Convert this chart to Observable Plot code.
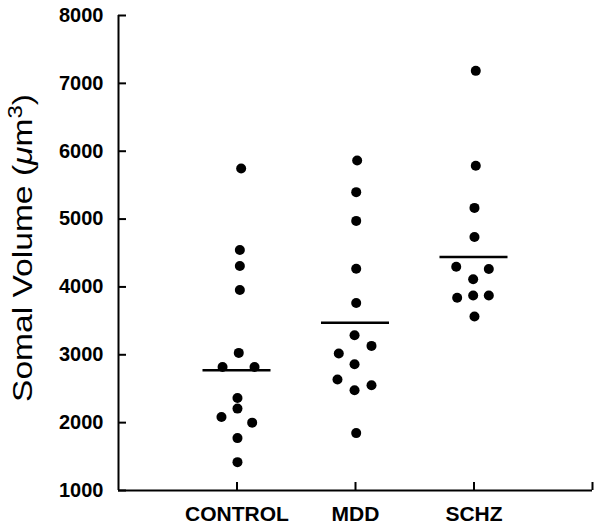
<!DOCTYPE html>
<html>
<head>
<meta charset="utf-8">
<script src="https://cdn.jsdelivr.net/npm/d3@7"></script>
<script src="https://cdn.jsdelivr.net/npm/@observablehq/plot@0.6"></script>
<style>
  html, body { margin: 0; padding: 0; background: white; }
</style>
</head>
<body>
<div id="chart"></div>
<script>
const categories = ["CONTROL", "MDD", "SCHZ"];
const controlValues = [5745, 4545, 4308, 3954, 3028, 2821, 2821, 2363, 2207, 2083, 2000, 1772, 1418];
const controlJitter = [0.035, 0.024, 0.024, 0.024, 0.015, -0.122, 0.148, 0.004, 0.004, -0.131, 0.128, 0.004, 0.004];
const mddValues = [5863, 5397, 4973, 4268, 3762, 3289, 3131, 3019, 2861, 2635, 2551, 2477, 1846];
const mddJitter = [0.014, 0.006, 0.006, 0.006, 0.006, -0.008, 0.135, -0.141, -0.008, -0.152, 0.135, -0.008, 0.006];
const schzValues = [7184, 5785, 5165, 4737, 4298, 4264, 4112, 3875, 3875, 3840, 3565];
const schzJitter = [0.015, 0.015, 0.004, 0.004, -0.150, 0.125, -0.007, 0.125, -0.007, -0.142, 0.004];
const groupMeans = [2772, 3471, 4441];
const yTicks = [1000, 2000, 3000, 4000, 5000, 6000, 7000, 8000];
const yLabel = "Somal Volume (μm3)";

const groups = [
  {values: controlValues, jitter: controlJitter},
  {values: mddValues, jitter: mddJitter},
  {values: schzValues, jitter: schzJitter}
];
const points = groups.flatMap((g, i) =>
  g.values.map((v, j) => ({pos: i + 1 + g.jitter[j], value: v, group: categories[i]})));
const meanRows = groupMeans.map((m, i) => ({pos: i + 1, value: m}));
const meanHalf = 0.287;

const chart = Plot.plot({
  width: 600,
  height: 530,
  marginLeft: 118,
  marginRight: 8,
  marginTop: 15,
  marginBottom: 40,
  style: {fontFamily: "'Liberation Sans', Arial, sans-serif", background: "white", color: "black"},
  x: {domain: [0, 4]},
  y: {domain: [1000, 8000]},
  marks: [
    Plot.axisY({ticks: yTicks, tickSize: -8, tickPadding: 23, fontSize: 20, fontWeight: "bold", strokeWidth: 2,
      label: yLabel, labelAnchor: "center", labelOffset: 86, tickFormat: d => String(d)}),
    Plot.axisX({ticks: [1, 2, 3, 4], tickSize: -8, tickPadding: 24, fontSize: 21, fontWeight: "bold", strokeWidth: 2,
      tickFormat: d => categories[d - 1] ?? "", label: null}),
    Plot.ruleX([0], {strokeWidth: 2}),
    Plot.ruleY([1000], {strokeWidth: 2}),
    Plot.ruleY(meanRows, {y: "value", x1: d => d.pos - meanHalf, x2: d => d.pos + meanHalf, strokeWidth: 2.5}),
    Plot.dot(points, {x: "pos", y: "value", r: 5, fill: "black", stroke: "none"})
  ]
});
document.getElementById("chart").appendChild(chart);

// style the y-axis title: regular weight, italic mu, superscript 3
const lab = chart.querySelector('g[aria-label="y-axis label"] text');
if (lab) {
  chart.appendChild(lab); // move to svg root so the transform below is absolute
  lab.setAttribute("font-size", 28);
  lab.setAttribute("font-weight", "normal");
  lab.setAttribute("fill", "black");
  lab.style.fontSize = "28px";
  lab.style.fontWeight = "normal";
  lab.setAttribute("text-anchor", "middle");
  lab.removeAttribute("dy");
  lab.removeAttribute("x");
  lab.removeAttribute("y");
  lab.setAttribute("transform", "translate(32,248) rotate(-90) scale(1.2,1)");
  const txt = lab.textContent;
  const ns = "http://www.w3.org/2000/svg";
  const idx = txt.indexOf("μ");
  lab.textContent = "";
  const t1 = document.createElementNS(ns, "tspan"); t1.textContent = txt.slice(0, idx); lab.appendChild(t1);
  const t2 = document.createElementNS(ns, "tspan"); t2.textContent = "μ"; t2.setAttribute("font-style", "italic"); lab.appendChild(t2);
  const t3 = document.createElementNS(ns, "tspan"); t3.textContent = "m"; lab.appendChild(t3);
  const t4 = document.createElementNS(ns, "tspan"); t4.textContent = "3"; t4.setAttribute("font-size", "20"); t4.setAttribute("dy", "-10"); lab.appendChild(t4);
  const t5 = document.createElementNS(ns, "tspan"); t5.textContent = ")"; t5.setAttribute("dy", "10"); lab.appendChild(t5);
}
</script>
</body>
</html>
